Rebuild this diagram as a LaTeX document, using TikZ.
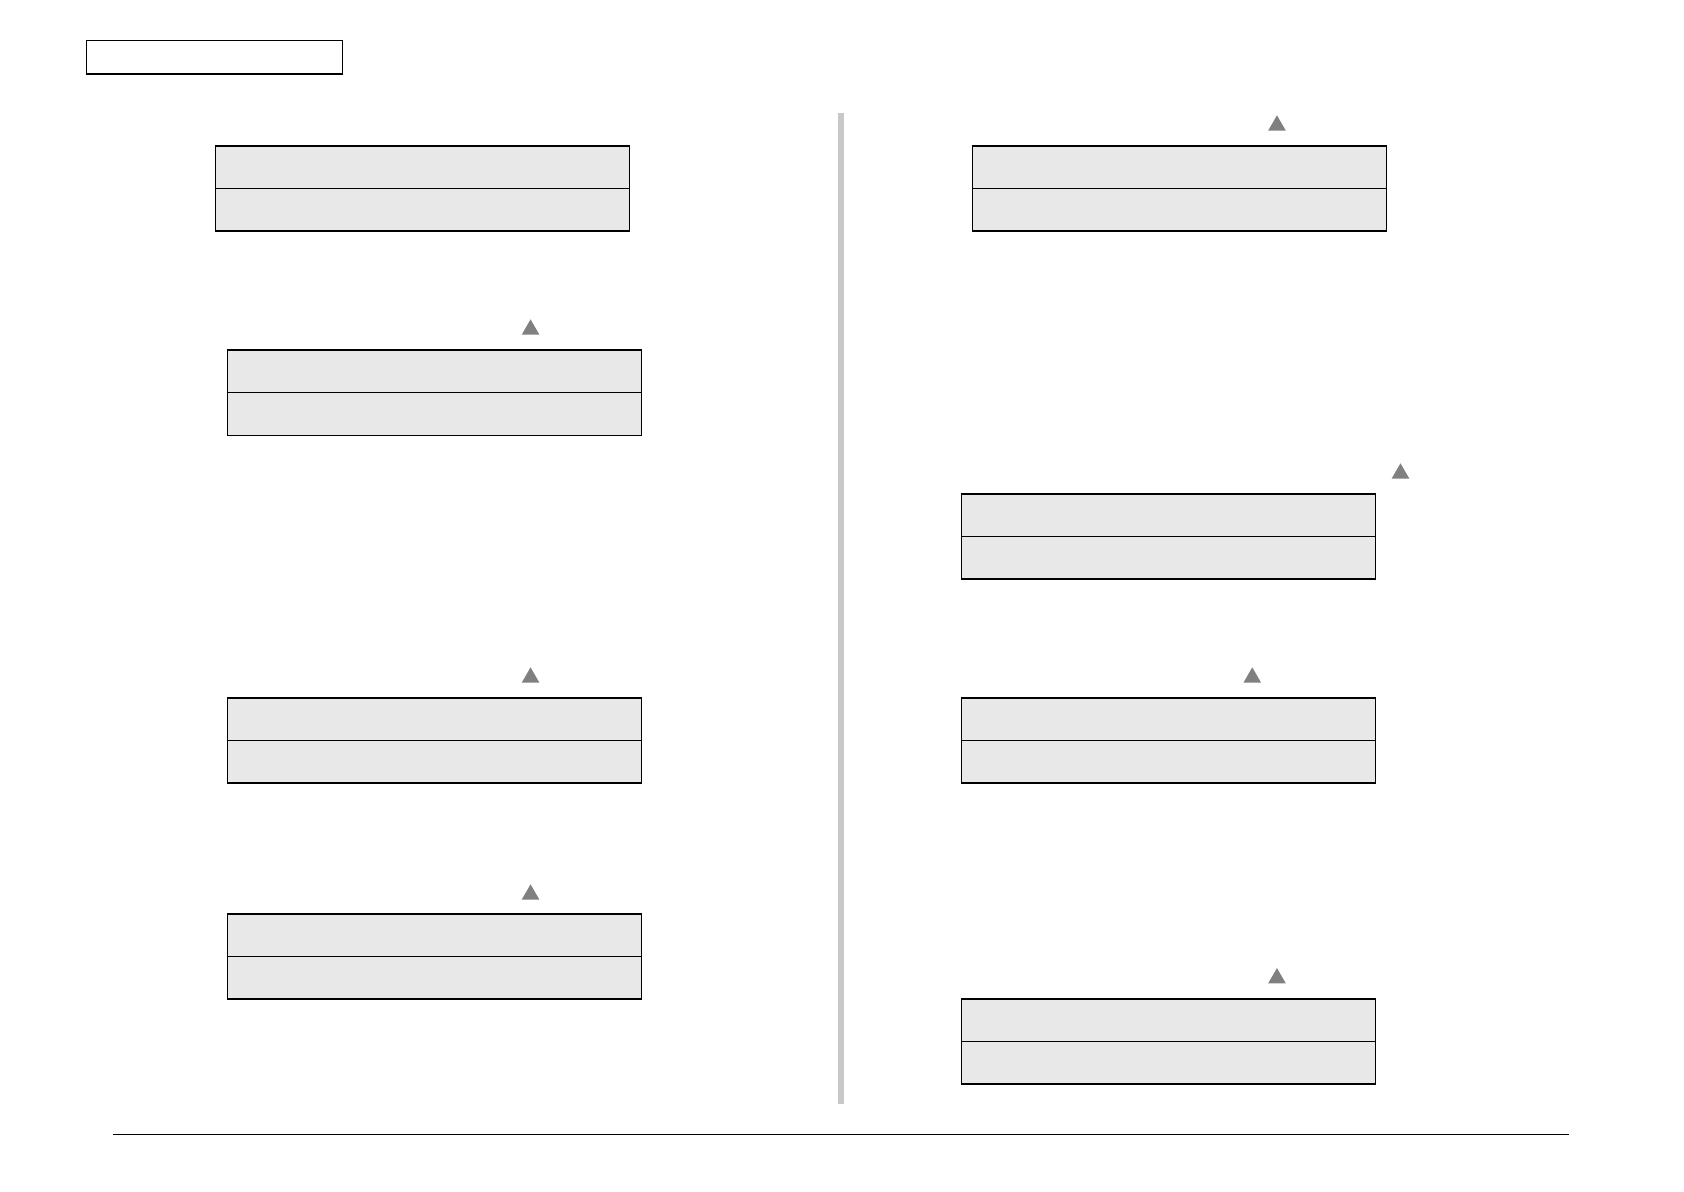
\documentclass[tikz,border=0pt]{standalone}
\usepackage{tikz}
\usetikzlibrary{positioning,shapes.geometric}
\definecolor{panelgray}{RGB}{232,232,232}
\definecolor{markgray}{RGB}{128,128,128}
\definecolor{bargray}{RGB}{200,200,200}
\tikzset{
  panel/.style={draw=black, line width=0.7pt, fill=panelgray,
                minimum width=7.30cm, minimum height=0.75cm,
                inner sep=0pt, outer sep=0pt},
  marker/.style={regular polygon, regular polygon sides=3, fill=markgray,
                 minimum size=0.36cm, inner sep=0pt, anchor=south},
  headbox/.style={draw=black, line width=0.7pt, fill=white,
                  minimum width=4.51cm, minimum height=0.59cm,
                  inner sep=0pt, anchor=north west},
  divider/.style={bargray, line width=2.7pt},
  footrule/.style={black, line width=0.6pt},
}
\begin{document}
\begin{tikzpicture}[x=0.01894cm,y=-0.01894cm]
  \path[use as bounding box] (0,0) rectangle (1568,1109);

  \node[headbox] (HEAD) at (80,37) {};

  \node[panel, anchor=north] (L1top) at (393.5,136) {};
  \node[panel, below=0pt of L1top] (L1bot) {};

  \node[marker] (L2mark) at (494,312) {};
  \node[panel, anchor=north] (L2top) at (404.5,326) {};
  \node[panel, below=0pt of L2top] (L2bot) {};

  \node[marker] (L3mark) at (494,636) {};
  \node[panel, anchor=north] (L3top) at (404.5,650) {};
  \node[panel, below=0pt of L3top] (L3bot) {};

  \node[marker] (L4mark) at (494,838) {};
  \node[panel, anchor=north] (L4top) at (404.5,851) {};
  \node[panel, below=0pt of L4top] (L4bot) {};

  \draw[divider] (783,105) -- (783,1028);

  \node[marker] (R1mark) at (1189,122) {};
  \node[panel, anchor=north] (R1top) at (1098,136) {};
  \node[panel, below=0pt of R1top] (R1bot) {};

  \node[marker] (R2mark) at (1304,446) {};
  \node[panel, anchor=north] (R2top) at (1088,460) {};
  \node[panel, below=0pt of R2top] (R2bot) {};

  \node[marker] (R3mark) at (1166,636) {};
  \node[panel, anchor=north] (R3top) at (1088,650) {};
  \node[panel, below=0pt of R3top] (R3bot) {};

  \node[marker] (R4mark) at (1189,916) {};
  \node[panel, anchor=north] (R4top) at (1088,930) {};
  \node[panel, below=0pt of R4top] (R4bot) {};

  \draw[footrule] (105,1056) -- (1461,1056);
\end{tikzpicture}
\end{document}
